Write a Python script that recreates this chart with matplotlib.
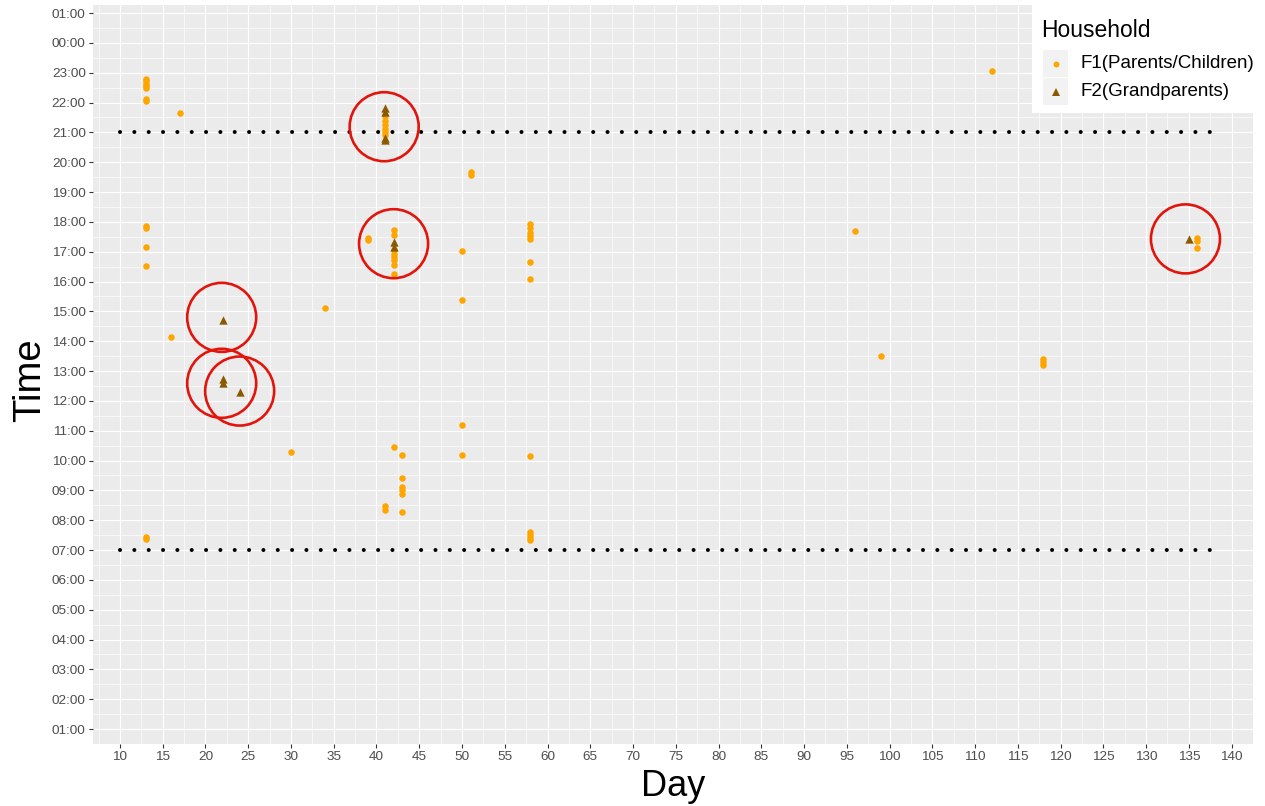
import matplotlib
matplotlib.use("Agg")
import matplotlib.pyplot as plt
from matplotlib.patches import Rectangle
from matplotlib.lines import Line2D

plt.rcParams['font.family'] = ['Liberation Sans', 'DejaVu Sans']

# Household F1 (Parents/Children): study day and time of day in hours
# (times past 24 belong to the early hours of the next day)
f1_day = [13, 13, 13, 13, 13, 13, 13, 13, 13, 13, 13, 13, 13,
          16, 17, 30, 34, 39, 39,
          41, 41, 41, 41, 41, 41, 41, 41,
          42, 42, 42, 42, 42, 42, 42, 42, 42,
          43, 43, 43, 43, 43, 43,
          50, 50, 50, 50, 51, 51,
          58, 58, 58, 58, 58, 58, 58, 58, 58, 58, 58, 58,
          96, 99, 112, 118, 118, 118, 136, 136, 136]
f1_time = [22.80, 22.72, 22.62, 22.55, 22.48, 22.12, 22.04, 17.85, 17.80, 17.17, 16.52, 7.45, 7.37,
           14.14, 21.65, 10.28, 15.13, 17.47, 17.38,
           21.55, 21.38, 21.25, 21.10, 21.00, 20.90, 8.47, 8.33,
           17.73, 17.55, 17.05, 16.93, 16.82, 16.71, 16.55, 16.27, 10.47,
           10.19, 9.40, 9.13, 9.02, 8.88, 8.28,
           17.01, 15.37, 11.20, 10.20, 19.67, 19.56,
           17.92, 17.80, 17.64, 17.53, 17.42, 16.65, 16.07, 10.15, 7.60, 7.50, 7.42, 7.35,
           17.71, 13.49, 23.07, 13.41, 13.31, 13.20, 17.47, 17.37, 17.11]

# Household F2 (Grandparents)
f2_day = [22, 22, 22, 24, 41, 41, 41, 41, 42, 42, 135]
f2_time = [14.71, 12.75, 12.59, 12.29, 21.81, 21.70, 20.80, 20.75, 17.31, 17.15, 17.44]

# Grandparent events singled out with a ring
ring_day = [40.9, 42.0, 21.9, 21.9, 24.0, 134.6]
ring_time = [21.19, 17.27, 14.80, 12.59, 12.33, 17.43]

# Boundaries of the daytime window (07:00 to 21:00)
window_times = [7, 21]
window_days = [10, 138]

series_labels = ["F1(Parents/Children)", "F2(Grandparents)"]
legend_title = "Household"
x_ticks = list(range(10, 141, 5))
y_ticks = list(range(1, 26))
y_labels = [f"{h % 24:02d}:00" for h in y_ticks]

F1_COLOR = "#FFA500"
F2_COLOR = "#8B5A00"
RING_COLOR = "#E3140B"

W, H = 1265, 806
fig = plt.figure(figsize=(W / 100, H / 100), dpi=100)
fig.patch.set_facecolor("white")

# panel in pixel coordinates
px_l, px_r, px_t, px_b = 93, 1253, 5, 744
ax = fig.add_axes([px_l / W, 1 - px_b / H, (px_r - px_l) / W, (px_b - px_t) / H])
ax.set_facecolor("#EBEBEB")
for s in ax.spines.values():
    s.set_visible(False)

ax.set_xlim(6.85, 142.15)
ax.set_ylim(0.925, 25.27)
ax.set_xticks(x_ticks)
ax.set_xticklabels([str(v) for v in x_ticks])
ax.set_xticks([v + 2.5 for v in range(5, 141, 5)], minor=True)
ax.set_yticks(y_ticks)
ax.set_yticklabels(y_labels)
ax.set_yticks([v + 0.5 for v in range(0, 25)], minor=True)

ax.grid(which="major", color="white", linewidth=0.85)
ax.grid(which="minor", color="white", linewidth=0.45)
ax.set_axisbelow(True)
ax.tick_params(which="major", length=2.75, width=0.8, color="#333333",
               labelcolor="#4D4D4D", labelsize=9.7, pad=2.5)
ax.tick_params(which="minor", length=0)

# dotted daytime boundaries
for t in window_times:
    ax.plot(window_days, [t, t], color="black", linewidth=2.9,
            linestyle=(0, (0.01, 3.55)), dash_capstyle="round", zorder=2)

ax.scatter(f1_day, f1_time, s=22, marker="o", color=F1_COLOR,
           linewidths=0, zorder=3)
ax.scatter(f2_day, f2_time, s=36, marker="^", color=F2_COLOR,
           linewidths=0, zorder=4)

ax.scatter(ring_day, ring_time, s=2470, facecolors="none",
           edgecolors=RING_COLOR, linewidths=1.9, zorder=5, clip_on=False)

# axis titles
fig.text((px_l + px_r) / 2 / W, 1 - 787 / H, "Day", ha="center", va="center",
         fontsize=26, color="black")
fig.text(30 / W, 1 - 380 / H, "Time", ha="center", va="center",
         rotation=90, fontsize=27.5, color="black")

# legend box
def fx(x):
    return x / W

def fy(y):
    return 1 - y / H

fig.add_artist(Rectangle((fx(1032), fy(113)), fx(1265) - fx(1032), fy(0) - fy(113),
                         transform=fig.transFigure, facecolor="white",
                         edgecolor="none", zorder=10))
fig.text(fx(1041), fy(37), legend_title, ha="left", va="baseline",
         fontsize=16.5, color="black", zorder=11)
key_styles = [("o", F1_COLOR, 4.3), ("^", F2_COLOR, 5.2)]
for i, (label, (mk, col, ms)) in enumerate(zip(series_labels, key_styles)):
    top = 50 + i * 28
    fig.add_artist(Rectangle((fx(1043), fy(top + 27)), fx(1068) - fx(1043),
                             fy(top) - fy(top + 27), transform=fig.transFigure,
                             facecolor="#F2F2F2", edgecolor="none", zorder=11))
    fig.add_artist(Line2D([fx(1055.5)], [fy(top + 13.5)], marker=mk, markersize=ms,
                          color=col, markeredgewidth=0, linestyle="none",
                          transform=fig.transFigure, zorder=12))
    fig.text(fx(1080), fy(top + 13.5), label, ha="left", va="center",
             fontsize=13.5, color="black", zorder=12)

fig.savefig("out.png", dpi=100)
